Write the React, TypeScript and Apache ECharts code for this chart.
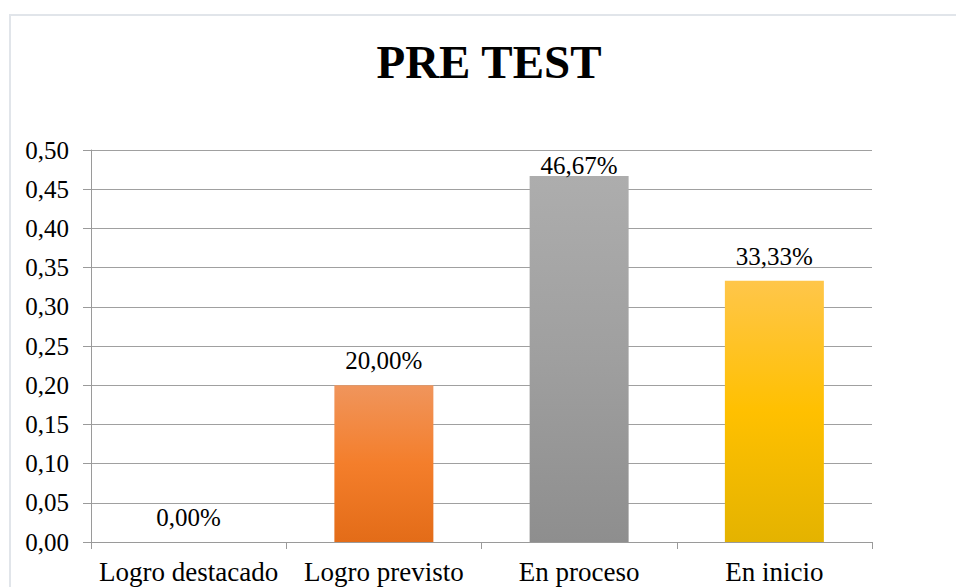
import React, { useEffect, useRef } from "react";
import * as echarts from "echarts";

const title = "PRE TEST";
const categories = ["Logro destacado", "Logro previsto", "En proceso", "En inicio"];
const values = [0, 0.2, 0.4667, 0.3333];
const yMin = 0;
const yMax = 0.5;
const yStep = 0.05;

const gradients = [
  ["#f0955c", "#f47e2b", "#e36c18"],
  ["#f0955c", "#f47e2b", "#e36c18"],
  ["#adadad", "#9f9f9f", "#8e8e8e"],
  ["#ffc64a", "#ffc000", "#e4b300"],
];

const FONT = "Liberation Serif";

export default function App() {
  const ref = useRef<HTMLDivElement>(null);
  useEffect(() => {
    if (!ref.current) return;
    const chart = echarts.init(ref.current, null, { renderer: "svg" });
    const fmtComma = (v: number, d: number) => v.toFixed(d).replace(".", ",");
    chart.setOption({
      animation: false,
      backgroundColor: "#ffffff",
      graphic: [
        {
          type: "rect",
          shape: { x: 10, y: 15, width: 980, height: 620 },
          style: { fill: "none", stroke: "#e1e5ea", lineWidth: 2 },
          silent: true,
        },
        {
          type: "text",
          x: 489,
          y: 62,
          style: {
            text: title,
            fontFamily: FONT,
            fontSize: 47,
            fontWeight: "bold",
            fill: "#000",
            align: "center",
            verticalAlign: "middle",
          },
          silent: true,
        },
      ],
      grid: { left: 91, right: 84, top: 150, bottom: 45, containLabel: false },
      xAxis: {
        type: "category",
        data: categories,
        axisLine: { lineStyle: { color: "#9a9a9a", width: 1 } },
        axisTick: { show: true, length: 7, alignWithLabel: false, lineStyle: { color: "#9a9a9a" } },
        axisLabel: { fontFamily: FONT, fontSize: 27, color: "#000", margin: 16, interval: 0 },
        splitLine: { show: false },
      },
      yAxis: {
        type: "value",
        min: yMin,
        max: yMax,
        interval: yStep,
        axisLine: { show: true, lineStyle: { color: "#9a9a9a", width: 1 } },
        axisTick: { show: true, length: 8, lineStyle: { color: "#9a9a9a" } },
        axisLabel: {
          fontFamily: FONT,
          fontSize: 25,
          color: "#000",
          margin: 22,
          formatter: (v: number) => fmtComma(v, 2),
        },
        splitLine: { show: true, lineStyle: { color: "#a0a0a0", width: 1 } },
      },
      series: [
        {
          type: "bar",
          barWidth: "50.7%",
          data: values.map((v, i) => ({
            value: v,
            itemStyle: {
              color: new echarts.graphic.LinearGradient(0, 0, 0, 1, [
                { offset: 0, color: gradients[i][0] },
                { offset: 0.5, color: gradients[i][1] },
                { offset: 1, color: gradients[i][2] },
              ]),
            },
            label: { distance: i === 2 ? -2 : 12 },
          })),
          label: {
            show: true,
            position: "top",
            fontFamily: FONT,
            fontSize: 25,
            color: "#000",
            formatter: (p: any) => fmtComma(p.value * 100, 2) + "%",
          },
        },
      ],
    });
    return () => chart.dispose();
  }, []);
  return (
    <div
      ref={ref}
      style={{ position: "fixed", left: 0, top: 0, width: 956, height: 587 }}
    />
  );
}
